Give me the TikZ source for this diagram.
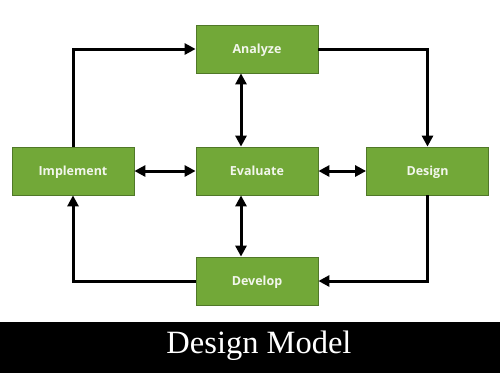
\documentclass[tikz,border=0pt]{standalone}
\usepackage{fontspec}
\setmainfont{Liberation Serif}
\newfontfamily\boxfont{Open Sans}
\usetikzlibrary{arrows.meta}
\definecolor{boxgreen}{RGB}{114,168,56}
\definecolor{boxedge}{RGB}{80,120,40}
\definecolor{boxtext}{RGB}{242,246,236}
\begin{document}
\begin{tikzpicture}[x=1pt,y=-1pt,
  stage/.style={draw=boxedge,line width=0.8pt,fill=boxgreen,minimum width=122pt,minimum height=48pt,inner sep=0pt,
    text height=9pt,text depth=0pt,
    font=\boxfont\bfseries\fontsize{12.5}{14}\selectfont,text=boxtext},
  link/.style={line width=3pt,-{Triangle[length=11pt,width=11pt]}},
  dlink/.style={line width=3pt,{Triangle[length=11pt,width=11pt]}-{Triangle[length=11pt,width=11pt]}}]
\useasboundingbox (0,0) rectangle (500,373);
\fill[white] (0,0) rectangle (500,373);
\fill[black] (0,322) rectangle (500,373);
\node[stage] (an) at (257,49) {Analyze};
\node[stage] (ev) at (257,171) {Evaluate};
\node[stage] (im) at (73,171) {Implement};
\node[stage] (de) at (427.5,171) {Design};
\node[stage] (dv) at (257,281) {Develop};
\coordinate (c1) at (73,49);
\coordinate (c2) at (427.5,49);
\coordinate (c3) at (427.5,281);
\coordinate (c4) at (73,281);
\draw[link] (im.north) -- (c1) -- (an.west);
\draw[link] (an.east) -- (c2) -- (de.north);
\draw[link] (de.south) -- (c3) -- (dv.east);
\draw[link] (dv.west) -- (c4) -- (im.south);
\draw[dlink] ([xshift=-16pt]an.south) -- ([xshift=-16pt]ev.north);
\draw[dlink] ([xshift=-16pt]ev.south) -- ([xshift=-16pt]dv.north);
\draw[dlink] (im.east) -- (ev.west);
\draw[dlink] (ev.east) -- (de.west);
\node[anchor=base,text=white,font=\fontsize{32.5}{36}\selectfont,inner sep=0pt] (title) at (259,353) {Design Model};
\end{tikzpicture}
\end{document}
